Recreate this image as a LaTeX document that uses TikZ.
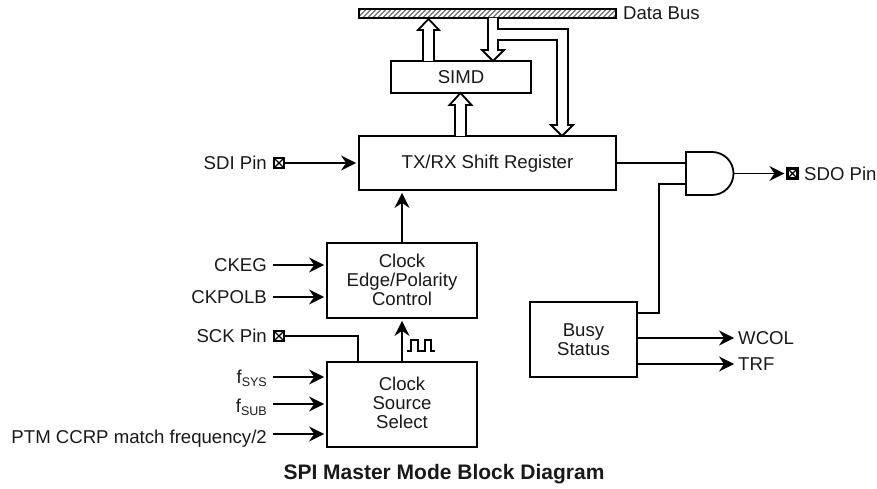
\documentclass[tikz,border=0pt]{standalone}
\usepackage{fontspec}
\setmainfont{Liberation Sans}
\usetikzlibrary{arrows.meta}
\newcommand{\subtxt}[1]{{\fontsize{12.5}{14}\selectfont\raisebox{-3.5pt}{#1}}}
\tikzset{
  x=1pt,y=-1pt,
  every node/.style={font=\fontsize{18.6}{18.8}\selectfont,text=black!90},
  blockbox/.style={draw=black,line width=1.8pt,inner sep=0pt,align=center},
  wire/.style={line width=1.8pt},
  arrowwire/.style={wire,shorten >=2pt,-{Stealth[length=15pt,width=15pt,inset=5pt]}},
  hollow/.style={line width=1.8pt,line join=miter,fill=white},
  pin/.style={draw=black,line width=2.2pt,minimum size=10pt,inner sep=0pt,
    path picture={\draw[line width=1.2pt] (path picture bounding box.north west)--(path picture bounding box.south east)
      (path picture bounding box.north east)--(path picture bounding box.south west);}},
  lbl/.style={inner sep=0pt},
}
\begin{document}
\begin{tikzpicture}
\useasboundingbox (0,0) rectangle (877,489);
% data bus
\node[draw=black,line width=1.8pt,minimum width=257pt,minimum height=9pt,inner sep=0pt,fill=black!55,
  path picture={\foreach \i in {-14,-9,...,265}{\draw[white,line width=1.8pt] ([xshift=\i pt]path picture bounding box.south west)--++(12pt,12pt);}}] (bus) at (487.5,13.5) {};
\node[lbl,anchor=west] (buslabel) at (623,13) {Data Bus};
% blocks
\node[blockbox,minimum width=140pt,minimum height=32pt] (simd) at (461,77) {SIMD};
\node[blockbox,minimum width=257pt,minimum height=54pt] (tx) at (487.5,163) {};
\node[lbl] (txlabel) at (487.5,163.5) {TX/RX Shift Register};
\node[blockbox,minimum width=150pt,minimum height=75pt] (edge) at (402,280.5) {};
\node[lbl,align=center] (edgelabel) at (402,280) {Clock\\Edge/Polarity\\Control};
\node[blockbox,minimum width=150pt,minimum height=85pt] (src) at (402,404.5) {};
\node[lbl,align=center] (srclabel) at (402,403) {Clock\\Source\\Select};
\node[blockbox,minimum width=107pt,minimum height=75pt] (busy) at (583.5,339.5) {Busy\\Status};
% hollow bus arrows
\draw[hollow] (423,61)--(423,30)--(418,30)--(428.5,19)--(439,30)--(434,30)--(434,61);
\draw[hollow] (455,136)--(455,105)--(449.5,105)--(460.5,93)--(471.5,105)--(466,105)--(466,136);
\draw[hollow] (488,18)--(488,50)--(482,50)--(493,61)--(504,50)--(498,50)--(498,40)--(557,40)--(557,125)--(551,125)--(562,136)--(573,125)--(568,125)--(568,29)--(498,29)--(498,18);
% AND gate
\draw[line width=1.8pt] (686,152)--(712,152) arc[start angle=90,end angle=-90,radius=21.5pt]--(686,195)--cycle;
\coordinate (andin1) at (686,163);
\coordinate (andin2) at (686,184);
\coordinate (andout) at (733.5,173.5);
\coordinate (busyout) at (637,313);
\draw[wire] (tx.east |- andin1)--(andin1);
\draw[wire,line join=miter] (andin2)-|(659,313)--(busyout);
% pins
\node[pin] (sdi) at (279,163) {};
\node[lbl,anchor=east] (sdilabel) at (267,163) {SDI Pin};
\draw[arrowwire] (sdi)--(tx.west |- sdi);
\node[pin] (sdo) at (792.5,173.5) {};
\node[lbl,anchor=west] (sdolabel) at (804,173.5) {SDO Pin};
\draw[arrowwire] (andout)--(sdo.west);
\node[pin] (sck) at (279,336) {};
\node[lbl,anchor=east] (scklabel) at (267,336) {SCK Pin};
\draw[wire] (sck.east)-|(358,362);
% vertical
\draw[arrowwire] (edge.north)--(tx.south -| edge.north);
\draw[arrowwire] (src.north)--(edge.south);
\draw[line width=1.6pt] (407,351)--(411,351)--(411,340)--(418,340)--(418,351)--(425,351)--(425,340)--(431,340)--(431,351)--(435,351);
% left inputs
\coordinate (a1) at (273,265);
\coordinate (a2) at (273,297);
\coordinate (a3) at (273,377);
\coordinate (a4) at (273,404);
\coordinate (a5) at (273,434);
\node[lbl,anchor=base east] (ckeg) at (267,271.5) {CKEG};
\draw[arrowwire] (a1)--(edge.west |- a1);
\node[lbl,anchor=base east] (ckpol) at (267,303.5) {CKPOLB};
\draw[arrowwire] (a2)--(edge.west |- a2);
\node[lbl,anchor=base east] (fsys) at (267,383) {f\subtxt{SYS}};
\draw[arrowwire] (a3)--(src.west |- a3);
\node[lbl,anchor=base east] (fsub) at (267,412) {f\subtxt{SUB}};
\draw[arrowwire] (a4)--(src.west |- a4);
\node[lbl,anchor=base east] (ptm) at (267,443) {PTM CCRP match frequency/2};
\draw[arrowwire] (a5)--(src.west |- a5);
% outputs
\node[lbl,anchor=west] (wcol) at (738,338) {WCOL};
\draw[arrowwire,shorten >=4pt] (busy.east |- wcol)--(wcol.west);
\node[lbl,anchor=west] (trf) at (738,364) {TRF};
\draw[arrowwire,shorten >=4pt] (busy.east |- trf)--(trf.west);
% title
\node[lbl,font=\fontsize{21}{22}\selectfont\bfseries] (title) at (444,474) {SPI Master Mode Block Diagram};
\end{tikzpicture}
\end{document}
